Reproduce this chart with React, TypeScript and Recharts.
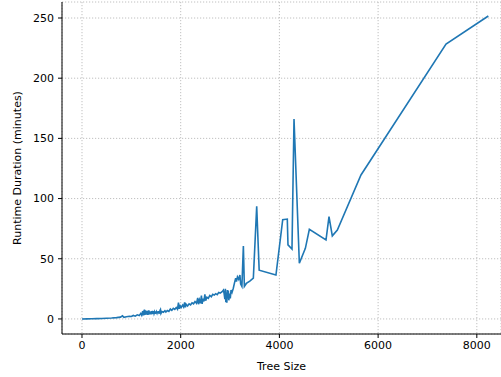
import React from "react";
import { LineChart, Line, XAxis, YAxis, CartesianGrid } from "recharts";

// tree size (x) and runtime in minutes (y)
const treeSizes = [
  0, 100, 200, 300, 400, 500, 600, 700, 780, 820, 850, 900, 960, 1000, 1040, 1080,
  1120, 1160, 1190, 1210, 1230, 1240, 1250, 1258, 1265, 1272, 1280, 1288, 1295, 1302,
  1310, 1318, 1325, 1332, 1340, 1348, 1355, 1362, 1370, 1380, 1390, 1400, 1410, 1420,
  1430, 1440, 1450, 1460, 1470, 1480, 1490, 1500, 1510, 1520, 1530, 1540, 1550, 1562,
  1575, 1582, 1590, 1600, 1620, 1650, 1680, 1700, 1730, 1760, 1790, 1820, 1850, 1880,
  1910, 1935, 1955, 1970, 1990, 2010, 2040, 2060, 2080, 2095, 2110, 2140, 2170, 2200,
  2230, 2260, 2290, 2320, 2345, 2360, 2380, 2400, 2420, 2435, 2450, 2470, 2490, 2505,
  2530, 2560, 2590, 2620, 2650, 2680, 2710, 2740, 2770, 2800, 2840, 2865, 2880, 2895,
  2905, 2915, 2925, 2935, 2945, 2955, 2965, 2975, 2990, 3005, 3020, 3040, 3066, 3090,
  3114, 3130, 3150, 3175, 3200, 3215, 3240, 3270, 3290, 3330, 3400, 3472, 3540, 3590,
  3930, 4067, 4160, 4174, 4255, 4296, 4404, 4526, 4607, 4944, 5005, 5072, 5174, 5653,
  7376, 8233,
];
const runtimes = [
  0, 0.1, 0.2, 0.3, 0.4, 0.6, 0.8, 1.1, 1.5, 2.6, 1.4, 1.8, 2.2, 2.0, 2.9, 2.3,
  3.4, 2.8, 4.6, 3.1, 6.5, 3.0, 6.9, 3.2, 7.8, 3.4, 7.2, 3.6, 7.0, 3.5,
  6.6, 4.0, 6.4, 3.3, 7.0, 3.5, 7.2, 4.1, 6.3, 3.9, 6.0, 3.8, 6.6, 4.0,
  6.8, 4.3, 6.4, 4.5, 5.8, 4.2, 6.2, 4.4, 5.9, 4.8, 6.3, 4.6, 6.5, 4.8,
  5.0, 7.2, 7.8, 4.6, 6.1, 5.5, 6.8, 5.7, 7.0, 6.3, 8.2, 7.1, 8.8, 8.0,
  9.5, 8.1, 13.5, 8.4, 10.8, 9.5, 11.5, 10.0, 13.8, 9.6, 12.2, 10.8, 12.5, 11.6,
  13.4, 12.6, 14.5, 13.0, 17.5, 12.2, 15.8, 13.0, 19.5, 12.5, 17.0, 14.5, 20.5, 15.2,
  18.0, 17.2, 19.5, 18.5, 20.5, 19.8, 21.0, 20.2, 22.0, 21.5, 22.7, 24.0, 21.0, 16.5,
  25.0, 14.0, 22.0, 13.5, 24.0, 17.0, 23.5, 15.5, 21.0, 17.0, 24.0, 22.0, 25.5, 30.0,
  33.8, 31.0, 35.0, 33.0, 36.5, 29.0, 27.0, 60.5, 27.0, 29.5, 31.5, 34.0, 93.5, 40.5,
  36.5, 82.5, 83.0, 61.5, 58.0, 166.0, 46.3, 58.7, 74.5, 65.6, 85.0, 69.0, 73.9, 119.6,
  228.4, 251.7,
];
const xTicks = [0, 2000, 4000, 6000, 8000];
const yTicks = [0, 50, 100, 150, 200, 250];

const data = treeSizes.map((size, i) => ({ size, runtime: runtimes[i] }));

const font = { fontFamily: "DejaVu Sans", fontSize: 11, fill: "#000" };

export default function App() {
  return (
    <div style={{ position: "absolute", left: 0, top: 0, background: "#fff" }}>
      <LineChart
        width={501}
        height={377}
        data={data}
        margin={{ top: 2, right: 0, bottom: 0, left: 8 }}
      >
        <CartesianGrid stroke="#b0b0b0" strokeDasharray="1.2 1.8" strokeWidth={0.8} />
        <XAxis
          dataKey="size"
          type="number"
          domain={[-405, 8490]}
          ticks={xTicks}
          allowDataOverflow
          height={43}
          tickSize={4}
          tickMargin={3}
          tick={font}
          stroke="#000"
          axisLine={{ stroke: "#000", strokeWidth: 1 }}
          label={{ value: "Tree Size", position: "insideBottom", offset: 7, style: font }}
        />
        <XAxis
          xAxisId="top"
          orientation="top"
          dataKey="size"
          type="number"
          domain={[-405, 8490]}
          height={0}
          tick={false}
          tickLine={false}
          axisLine={{ stroke: "#000", strokeWidth: 1 }}
        />
        <YAxis
          type="number"
          domain={[-12.5, 263.3]}
          ticks={yTicks}
          allowDataOverflow
          width={54}
          tickSize={4}
          tickMargin={4}
          tick={font}
          stroke="#000"
          axisLine={{ stroke: "#000", strokeWidth: 1 }}
          label={({ viewBox }: any) => (
            <text
              x={17}
              y={viewBox.y + viewBox.height / 2}
              transform={`rotate(-90, 17, ${viewBox.y + viewBox.height / 2})`}
              textAnchor="middle"
              dominantBaseline="central"
              style={font}
            >
              Runtime Duration (minutes)
            </text>
          )}
        />
        <Line
          type="linear"
          dataKey="runtime"
          stroke="#1f77b4"
          strokeWidth={1.6}
          dot={false}
          isAnimationActive={false}
        />
      </LineChart>
    </div>
  );
}
